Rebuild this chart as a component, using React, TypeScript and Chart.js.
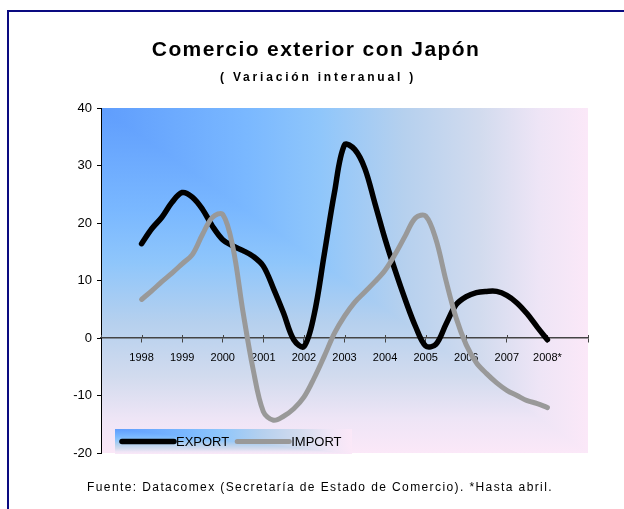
import React, { useEffect, useRef } from 'react';
import { Chart, registerables } from 'chart.js';

Chart.register(...registerables);

const chartTitle = 'Comercio exterior con Japón';
const chartSubtitle = '( Variación interanual )';
const footnote = 'Fuente: Datacomex (Secretaría de Estado de Comercio). *Hasta abril.';

const yearLabels = ['1998', '1999', '2000', '2001', '2002', '2003', '2004', '2005', '2006', '2007', '2008*'];
const firstYear = 1998;
const axisMinYear = 1997;
const axisMaxYear = 2009;

// quarterly readings, 1998 T1 ... 2008 T1
const exportValues = [
  16.4, 19.0, 21.0, 23.6,
  25.3, 24.5, 22.4, 19.4,
  17.1, 16.0, 15.2, 14.2,
  12.5, 8.6, 4.3, -0.3,
  -1.5, 4.0, 14.5, 25.2,
  33.6, 32.8, 29.5, 23.4,
  17.2, 11.7, 6.6, 2.0,
  -1.4, -1.1, 2.4, 5.8,
  7.2, 7.9, 8.1, 8.1,
  7.4, 6.1, 4.2, 1.9,
  -0.3,
];
const importValues = [
  6.7, 8.2, 9.8, 11.3,
  12.9, 14.5, 18.0, 21.0,
  21.5, 15.8, 4.5, -5.5,
  -12.8, -14.3, -13.6, -12.3,
  -10.3, -7.0, -3.2, 0.8,
  3.8, 6.2, 8.0, 9.8,
  11.8, 14.6, 17.8, 20.9,
  21.2, 17.2, 10.0, 3.5,
  -1.2, -4.3, -6.2, -7.8,
  -9.1, -10.0, -10.9, -11.4,
  -12.1,
];
const seriesNames = ['EXPORT', 'IMPORT'];
const seriesColors = ['#000000', '#999999'];

const yMin = -20;
const yMax = 40;
const yStep = 10;

const FONT = "'Liberation Sans', Arial, sans-serif";

const gradStops: [number, string][] = [
  [0, '#5f9dfd'],
  [0.3, '#7ab8ff'],
  [0.45, '#8fc6fb'],
  [0.62, '#b5d0ee'],
  [0.78, '#d2dbee'],
  [0.9, '#eee5f6'],
  [1, '#fbe8f8'],
];

function fillCornerGradient(ctx: CanvasRenderingContext2D, l: number, t: number, r: number, b: number) {
  const v = ctx.createLinearGradient(0, t, 0, b);
  const h = ctx.createLinearGradient(l, 0, r, 0);
  gradStops.forEach(([o, c]) => {
    v.addColorStop(o, c);
    h.addColorStop(o, c);
  });
  ctx.save();
  ctx.fillStyle = v;
  ctx.fillRect(l, t, r - l, b - t);
  ctx.beginPath();
  ctx.moveTo(l, t);
  ctx.lineTo(r, t);
  ctx.lineTo(r, b);
  ctx.closePath();
  ctx.fillStyle = h;
  ctx.fill();
  ctx.restore();
}

const decorPlugin = {
  id: 'decor',
  beforeDraw(chart: any) {
    const { ctx, chartArea } = chart;
    ctx.save();
    ctx.fillStyle = '#ffffff';
    ctx.fillRect(0, 0, chart.width, chart.height);
    ctx.strokeStyle = '#0a0a80';
    ctx.lineWidth = 2;
    ctx.strokeRect(8, 11, 900, 900);
    ctx.restore();
    fillCornerGradient(ctx, chartArea.left, chartArea.top, chartArea.right, chartArea.bottom);
  },
  beforeDatasetsDraw(chart: any) {
    // upper half of the crossing tick marks on the zero axis
    const { ctx } = chart;
    const xs = chart.scales.x;
    const y0 = chart.scales.y.getPixelForValue(0);
    ctx.save();
    ctx.strokeStyle = '#444';
    ctx.lineWidth = 1;
    xs.ticks.forEach((t: any) => {
      const px = Math.round(xs.getPixelForValue(t.value)) + 0.5;
      ctx.beginPath();
      ctx.moveTo(px, y0 - 3);
      ctx.lineTo(px, y0);
      ctx.stroke();
    });
    ctx.restore();
  },
  afterDraw(chart: any) {
    const { ctx } = chart;
    ctx.save();
    ctx.fillStyle = '#000';
    ctx.textAlign = 'center';
    ctx.textBaseline = 'alphabetic';
    ctx.font = `bold 21px ${FONT}`;
    (ctx as any).letterSpacing = '1.4px';
    ctx.fillText(chartTitle, 316, 56);
    ctx.font = `bold 12px ${FONT}`;
    (ctx as any).letterSpacing = '2.8px';
    ctx.fillText(chartSubtitle, 318, 81);
    ctx.font = `12px ${FONT}`;
    (ctx as any).letterSpacing = '1.4px';
    ctx.fillText(footnote, 320, 491);
    (ctx as any).letterSpacing = '0px';

    // legend
    const lx = 115, ly = 429, lw = 237, lh = 25;
    fillCornerGradient(ctx, lx, ly, lx + lw, ly + lh);
    let x = 122;
    const cy = ly + lh / 2;
    ctx.font = `13px ${FONT}`;
    ctx.textAlign = 'left';
    ctx.textBaseline = 'middle';
    chart.data.datasets.forEach((ds: any) => {
      ctx.strokeStyle = ds.borderColor;
      ctx.lineWidth = ds.borderWidth;
      ctx.lineCap = 'round';
      ctx.beginPath();
      ctx.moveTo(x, cy);
      ctx.lineTo(x + 52, cy);
      ctx.stroke();
      ctx.fillStyle = '#000';
      ctx.fillText(ds.label, x + 54, cy + 1);
      x += 54 + ctx.measureText(ds.label).width + 8;
    });
    ctx.restore();
  },
};

export default function App() {
  const ref = useRef<HTMLCanvasElement | null>(null);

  useEffect(() => {
    document.body.style.margin = '0';
    const canvas = ref.current;
    if (!canvas) return;
    const toPoints = (vals: number[]) => vals.map((v, i) => ({ x: firstYear + i / 4, y: v }));
    const chart = new Chart(canvas, {
      type: 'line',
      data: {
        datasets: [
          {
            label: seriesNames[0],
            data: toPoints(exportValues),
            borderColor: seriesColors[0],
            borderWidth: 5.5,
            pointRadius: 0,
            tension: 0.35,
            borderCapStyle: 'round',
            borderJoinStyle: 'round',
            order: 1,
          },
          {
            label: seriesNames[1],
            data: toPoints(importValues),
            borderColor: seriesColors[1],
            borderWidth: 5,
            pointRadius: 0,
            tension: 0.35,
            borderCapStyle: 'round',
            borderJoinStyle: 'round',
            order: 0,
          },
        ],
      },
      options: {
        animation: false,
        responsive: false,
        devicePixelRatio: 1,
        layout: { padding: { top: 108, right: 36, bottom: 56, left: 0 } },
        plugins: {
          legend: { display: false },
          tooltip: { enabled: false },
          title: { display: false },
        },
        scales: {
          x: {
            type: 'linear',
            min: axisMinYear,
            max: axisMaxYear,
            position: { y: 0 } as any,
            afterFit: (s: any) => {
              s.height = 0;
            },
            grid: { drawOnChartArea: false, drawTicks: true, tickLength: 4, color: '#444', lineWidth: 1 },
            border: { display: true, color: '#444', width: 1.5 },
            ticks: {
              stepSize: 1,
              autoSkip: false,
              maxRotation: 0,
              padding: 9,
              color: '#000',
              font: { family: FONT, size: 11 },
              callback: (v: any) => yearLabels[Math.round(Number(v)) - firstYear] ?? '',
            },
          },
          y: {
            min: yMin,
            max: yMax,
            afterFit: (s: any) => {
              s.width = 101;
            },
            grid: { drawOnChartArea: false, drawTicks: true, tickLength: 4, color: '#000' },
            border: { display: true, color: '#000', width: 1 },
            ticks: {
              stepSize: yStep,
              padding: 5,
              color: '#000',
              font: { family: FONT, size: 13 },
            },
          },
        },
      },
      plugins: [decorPlugin],
    });
    return () => chart.destroy();
  }, []);

  return <canvas ref={ref} width={624} height={509} style={{ display: 'block' }} />;
}
